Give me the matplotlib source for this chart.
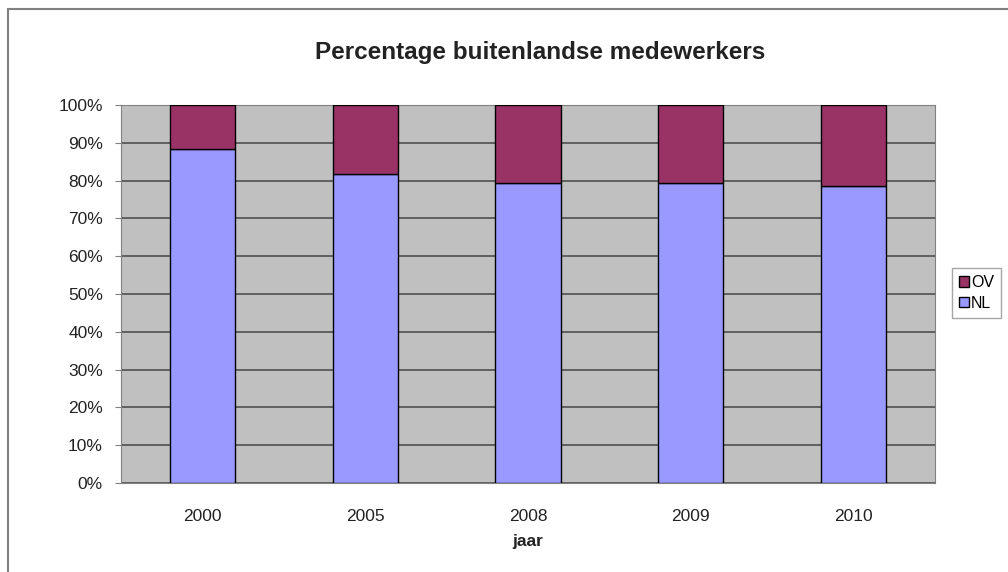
import matplotlib
matplotlib.use('Agg')
import matplotlib.pyplot as plt
from matplotlib.patches import Rectangle
from matplotlib.ticker import PercentFormatter
import numpy as np

# data
jaren = ['2000', '2005', '2008', '2009', '2010']
nl = [88.4, 81.7, 79.4, 79.4, 78.6]
ov = [100 - v for v in nl]

plt.rcParams['font.family'] = ['Liberation Sans', 'DejaVu Sans']

fig = plt.figure(figsize=(10.08, 5.72), dpi=100)
fig.patch.set_facecolor('white')
# chart frame (Excel chart area border)
fig.add_artist(Rectangle((8 / 1008, -0.05), 1.2, 1 - 9 / 572 + 0.05,
                         transform=fig.transFigure, fill=False,
                         edgecolor='#808080', linewidth=1.5))

ax = fig.add_axes([121 / 1008, 1 - 483 / 572, 814 / 1008, 378 / 572])
ax.set_facecolor('#C0C0C0')

x = np.arange(len(jaren))
w = 0.4
b1 = ax.bar(x, nl, w, color='#9999FF', edgecolor='black', linewidth=1, label='NL', zorder=3)
b2 = ax.bar(x, ov, w, bottom=nl, color='#993366', edgecolor='black', linewidth=1, label='OV', zorder=3)

ax.set_xlim(-0.5, len(jaren) - 0.5)
ax.set_ylim(0, 100)
ax.set_yticks(np.arange(0, 101, 10))
ax.yaxis.set_major_formatter(PercentFormatter(decimals=0))
ax.set_xticks(x)
ax.set_xticklabels(jaren)
ax.grid(axis='y', color='#505050', linewidth=1.2, zorder=1)
ax.tick_params(axis='y', labelsize=12.5, length=4, color='#808080', pad=9, labelcolor='#222222')
ax.tick_params(axis='x', labelsize=12.5, length=0, pad=19, labelcolor='#222222')
for s in ['top', 'right', 'left', 'bottom']:
    ax.spines[s].set_color('#808080')

ax.set_xlabel('jaar', fontsize=12.5, fontweight='bold', labelpad=7, color='#222222')
fig.text(540 / 1008, 1 - 52 / 572, 'Percentage buitenlandse medewerkers',
         ha='center', va='center', fontsize=17.5, fontweight='bold', color='#222222')

leg = fig.legend([b2, b1], ['OV', 'NL'], loc='upper left',
                 bbox_to_anchor=(952 / 1008, 1 - 268 / 572),
                 fontsize=11.5, frameon=True, fancybox=False,
                 handlelength=0.6, handleheight=0.6, handletextpad=0.15,
                 borderpad=0.45, labelspacing=0.35, borderaxespad=0)
leg.get_frame().set_edgecolor('#909090')
leg.get_frame().set_linewidth(1)

fig.savefig('out.png', dpi=100)
